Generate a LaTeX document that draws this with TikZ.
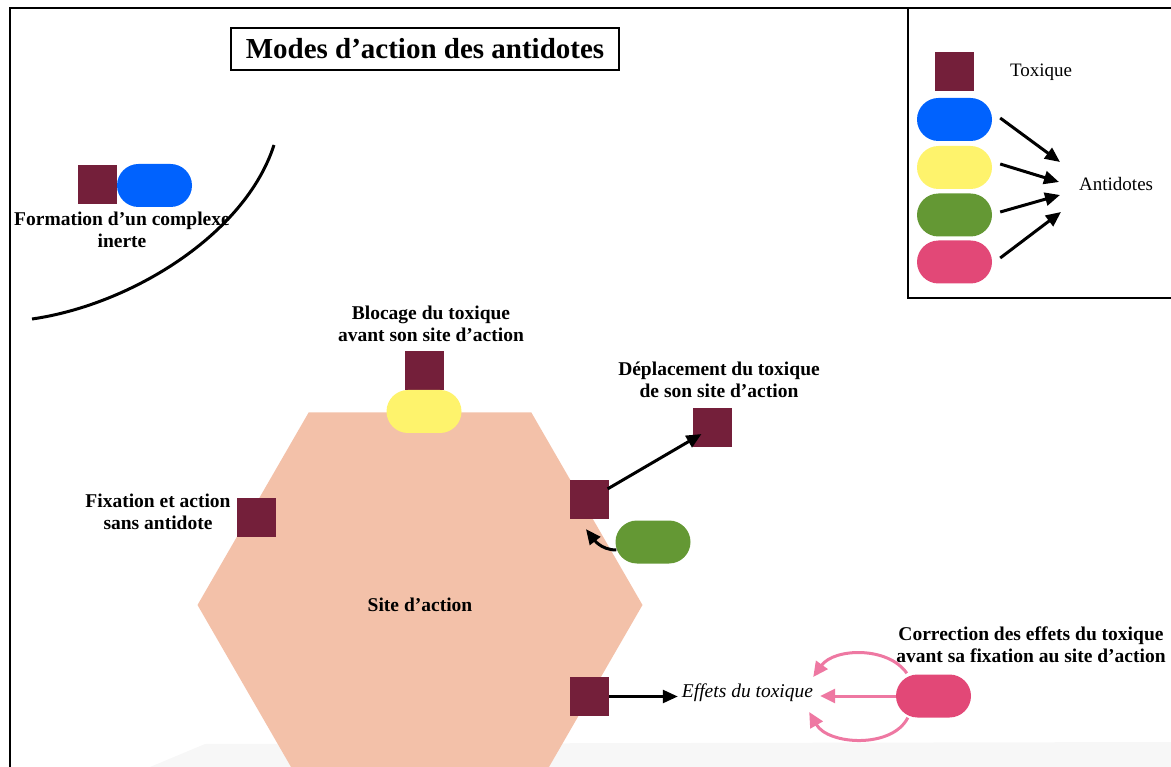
\documentclass[tikz,border=0pt]{standalone}
\usepackage{fontspec}
\setmainfont{Liberation Serif}
\usetikzlibrary{arrows.meta,calc,shapes.geometric}
\definecolor{tox}{HTML}{741F3A}
\definecolor{abluec}{HTML}{0062FE}
\definecolor{ayellowc}{HTML}{FEF36C}
\definecolor{agreenc}{HTML}{649834}
\definecolor{apinkc}{HTML}{E24877}
\definecolor{peach}{HTML}{F3C1A9}
\definecolor{pinkarr}{HTML}{EE78A2}
\definecolor{bandgray}{HTML}{F7F7F7}
\begin{document}
\begin{tikzpicture}[x=1pt,y=-1pt,
  toxsq/.style={fill=tox, minimum size=39pt, inner sep=0pt},
  pill/.style={rounded corners=21.5pt, minimum width=75pt, minimum height=43pt, inner sep=0pt},
  lbl/.style={font=\bfseries\fontsize{19.5}{22}\selectfont, align=center, inner sep=1pt},
  txt/.style={font=\fontsize{19}{22}\selectfont, inner sep=1pt},
  arr/.style={line width=3pt, -{Triangle[length=15pt,width=13pt]}},
  parr/.style={draw=pinkarr, line width=3pt, -{Triangle[length=15pt,width=14pt]}},
  frame/.style={line width=2pt}
]
\useasboundingbox (0,0) rectangle (1171,767);
% background band
\fill[bandgray] (150,767) -- (205,744) -- (1175,742) -- (1175,767) -- cycle;
% frame
\draw[frame] (10,772) -- (10,8) -- (1176,8);
\draw[frame] (908,8) -- (908,298) -- (1176,298);
% title
\node[draw, line width=2.6pt, minimum width=388pt, minimum height=42pt, inner sep=0pt,
  font=\bfseries\fontsize{29}{32}\selectfont] (title) at (425,49) {Modes d’action des antidotes};

% legend
\node[toxsq] (lsq) at (954,72) {};
\node[txt] (ltox) at (1041,72) {Toxique};
\node[pill, fill=abluec] (lblue) at (954.5,119.5) {};
\node[pill, fill=ayellowc] (lyellow) at (954.5,167.5) {};
\node[pill, fill=agreenc] (lgreen) at (954.5,215) {};
\node[pill, fill=apinkc] (lpink) at (954.5,262) {};
\node[txt, anchor=west] (lant) at (1078,184) {Antidotes};
\coordinate (a1) at (1060,162);
\coordinate (a2) at (1059,182);
\coordinate (a3) at (1060,195);
\coordinate (a4) at (1061,212);
\draw[arr] ($(lblue.east)+(8,-1.5)$) -- (a1);
\draw[arr] ($(lyellow.east)+(8,-3.5)$) -- (a2);
\draw[arr] ($(lgreen.east)+(8,-3)$) -- (a3);
\draw[arr] ($(lpink.east)+(8,-4)$) -- (a4);

% complex
\node[toxsq] (csq) at (97,185) {};
\node[pill, fill=abluec] (cblue) at (154.5,185.5) {};
\node[lbl] (ctext) at (122,230) {Formation d’un complexe\\inerte};
\draw[line width=3pt] (32,319) .. controls (130,305) and (245,235) .. (274,145);

% site
\node[regular polygon, regular polygon sides=6, minimum size=445pt, inner sep=0pt,
  fill=peach, lbl] (site) at (420,605) {Site d’action};

% blocage
\node[toxsq] (bsq) at (424.5,371) {};
\node[pill, fill=ayellowc] (bpill) at (424,411.5) {};
\node[lbl] (btext) at (431,324) {Blocage du toxique\\avant son site d’action};

% fixation
\node[toxsq] (fsq) at (256.5,517.5) {};
\node[lbl] (ftext) at (158,512) {Fixation et action\\sans antidote};

% deplacement
\node[toxsq] (dsq) at (589.5,499.5) {};
\node[toxsq] (dsq2) at (712.7,427.5) {};
\node[pill, fill=agreenc] (gpill) at (653,542) {};
\node[lbl] (dtext) at (719,380) {Déplacement du toxique\\de son site d’action};
\draw[arr, shorten <=21pt, shorten >=13pt] (dsq.center) -- (dsq2.center);
\draw[arr] ($(gpill.west)+(1,8)$) .. controls +(-16,0) and +(7,9) .. ($(dsq.south)+(-3.5,10)$);

% effets
\node[toxsq] (esq) at (589.5,696.5) {};
\node[font=\itshape\fontsize{19.5}{22}\selectfont, inner sep=1pt] (eff) at (747.5,693) {Effets du toxique};
\draw[arr, line width=2.6pt, shorten >=3pt] (esq.east) -- (esq.east -| eff.west);

% correction
\node[pill, fill=apinkc] (ppill) at (933.5,696) {};
\node[lbl] (ptext) at (1031,645) {Correction des effets du toxique\\avant sa fixation au site d’action};
\draw[parr] ($(ppill.north west)+(11,-1)$) .. controls (888,646) and (834,648) .. ($(eff.east)+(-1,-16)$);
\draw[parr, shorten >=6pt] (ppill.west) -- (ppill.west -| eff.east);
\draw[parr] ($(ppill.south west)+(12,0)$) .. controls (892,749) and (828,745) .. ($(eff.east)+(-5,19)$);
\end{tikzpicture}
\end{document}
